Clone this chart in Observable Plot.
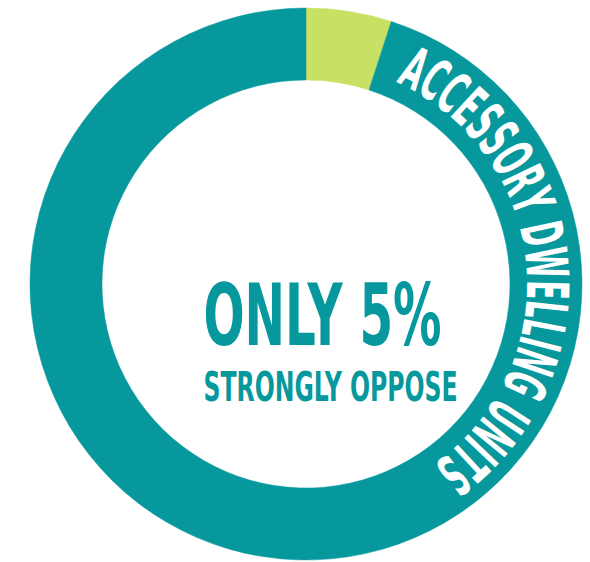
<!DOCTYPE html>
<html>
<head>
<meta charset="utf-8">
<script src="https://cdn.jsdelivr.net/npm/d3@7"></script>
<script src="https://cdn.jsdelivr.net/npm/@observablehq/plot@0.6"></script>
<style>
  html, body { margin: 0; padding: 0; background: #ffffff; }
  #chart svg { display: block; }
</style>
</head>
<body>
<div id="chart"></div>
<script>
// ---- data ----
const categories = ["Strongly oppose", "Other responses"];
const values = [5, 95];
const colors = ["#c8e064", "#06989c"];
const ringLabel = "ACCESSORY DWELLING UNITS";
const headline = "ONLY 5%";
const subline = "STRONGLY OPPOSE";

const data = categories.map((c, i) => ({category: c, value: values[i], color: colors[i]}));

// ---- layout (data units == pixels) ----
const W = 590, H = 562;
const CX = 306, CY = 284, R_OUT = 276, R_IN = 204;
const LABEL_R = 221, LABEL_START = 24, LABEL_END = 145; // degrees clockwise from 12 o'clock
const LABEL_SIZE = 58;
const FONT = '"Liberation Sans Narrow", "DejaVu Sans Condensed", "Roboto", sans-serif';

function measure(text, size) {
  const ctx = document.createElement("canvas").getContext("2d");
  ctx.font = `bold ${size}px ${FONT}`;
  return ctx.measureText(text).width;
}

function donut(index, scales) {
  const {x, y} = scales;
  const cx = x(CX), cy = y(CY);
  const k = Math.abs(x(1) - x(0));
  const g = d3.create("svg:g");
  const pie = d3.pie().sort(null).value(d => d.value).startAngle(0).endAngle(2 * Math.PI);
  const arc = d3.arc().innerRadius(R_IN * k).outerRadius(R_OUT * k);
  g.append("g")
    .attr("transform", `translate(${cx},${cy})`)
    .selectAll("path")
    .data(pie(data))
    .join("path")
    .attr("d", arc)
    .attr("fill", d => d.data.color)
    .attr("stroke", d => d.data.color)
    .attr("stroke-width", 0.5);

  // curved label, glyph by glyph, compressed to fit the arc
  const rb = LABEL_R * k;
  const a0 = LABEL_START * Math.PI / 180, a1 = LABEL_END * Math.PI / 180;
  const len = rb * (a1 - a0);
  const chars = Array.from(ringLabel);
  const widths = chars.map(c => measure(c, LABEL_SIZE));
  const total = d3.sum(widths);
  const s = len / total;
  let pos = 0;
  const glyphs = chars.map((c, i) => {
    const w = widths[i] * s;
    const mid = pos + w / 2;
    pos += w;
    const a = a0 + mid / rb;
    return {c, a, px: cx + rb * Math.sin(a), py: cy - rb * Math.cos(a)};
  });
  g.append("g")
    .attr("fill", "#ffffff")
    .attr("font-family", FONT)
    .attr("font-weight", "bold")
    .attr("font-size", LABEL_SIZE)
    .attr("text-anchor", "middle")
    .selectAll("text")
    .data(glyphs)
    .join("text")
    .attr("transform", d => `translate(${d.px},${d.py}) rotate(${d.a * 180 / Math.PI}) scale(${s},1)`)
    .text(d => d.c);
  return g.node();
}

const chart = Plot.plot({
  width: W,
  height: H,
  margin: 0,
  x: {domain: [0, W], range: [0, W], axis: null},
  y: {domain: [0, H], range: [0, H], axis: null},
  style: {background: "#ffffff", overflow: "visible"},
  marks: [
    donut,
    Plot.text([headline], {
      x: () => 203, y: () => 344, text: d => d,
      textAnchor: "start", lineAnchor: "bottom",
      fill: "#06989c", fontSize: 85, fontWeight: "bold", fontFamily: FONT
    }),
    Plot.text([subline], {
      x: () => 203, y: () => 400, text: d => d,
      textAnchor: "start", lineAnchor: "bottom",
      fill: "#06989c", fontSize: 41, fontWeight: "bold", fontFamily: FONT
    })
  ]
});

// fit the condensed headline widths
const lengths = {[headline]: 238, [subline]: 254};
d3.select(chart).selectAll("text").each(function() {
  const t = this.textContent;
  if (lengths[t]) {
    d3.select(this).attr("textLength", lengths[t]).attr("lengthAdjust", "spacingAndGlyphs");
  }
});

document.getElementById("chart").appendChild(chart);
</script>
</body>
</html>
